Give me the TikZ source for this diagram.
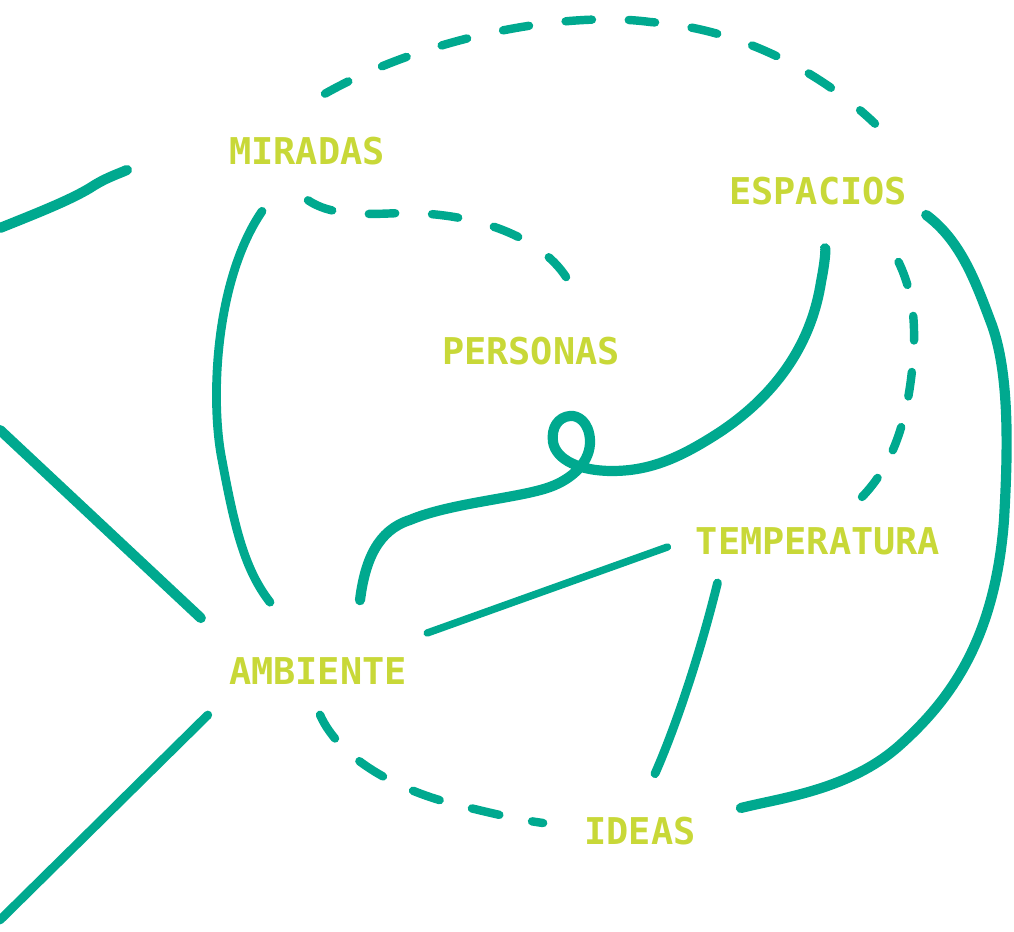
\documentclass[tikz,border=0pt]{standalone}
\usepackage{fontspec}
\setmonofont{DejaVu Sans Mono}
\usetikzlibrary{positioning,calc}

\definecolor{verde}{RGB}{0,169,143}
\definecolor{lima}{RGB}{200,216,56}

\begin{document}
\begin{tikzpicture}[x=0.02cm, y=-0.02cm,
    palabra/.style={text=lima, font=\ttfamily\bfseries\fontsize{21}{21}\selectfont, inner sep=0pt},
    trazo/.style={draw=verde, line width=5pt, line cap=round, line join=round},
    grueso/.style={trazo, line width=5.8pt},
    fino/.style={trazo, line width=4.2pt},
    rayas/.style={trazo, line width=4.8pt, dash pattern=on 15pt off 21pt}]
    \useasboundingbox (0,0) rectangle (1014,932);
    % palabras
    \node[palabra] (mir) at (307,151) {MIRADAS};
    \node[palabra] (esp) at (818,191) {ESPACIOS};
    \node[palabra] (per) at (531,351) {PERSONAS};
    \node[palabra] (tem) at (818,541) {TEMPERATURA};
    \node[palabra] (amb) at (318,671) {AMBIENTE};
    \node[palabra] (ide) at (640,831) {IDEAS};
    % extremos libres
    \coordinate (bordeA) at (0,228);
    \coordinate (bordeB) at (0,430);
    \coordinate (bordeC) at (0,920);
    % lineas continuas
    \draw[grueso] (bordeA) .. controls (40,212) and (70,200) .. (90,188)
        .. controls (105,178) and (118,174) .. ($(mir.west)+(-102,19)$);
    \draw[grueso] (bordeB) -- ($(amb.west)+(-28,-53)$);
    \draw[trazo] ($(amb.west)+(-21,44)$) -- (bordeC);
    \draw[trazo] ($(mir.south)+(-45,46)$) .. controls (215,280) and (210,400) .. (222,460)
        .. controls (235,530) and (245,570) .. ($(amb.north)+(-48,-55)$);
    \draw[grueso] ($(amb.north)+(42,-57)$) .. controls (365,560) and (378,530) .. (410,520)
        .. controls (450,503) and (520,498) .. (550,487)
        .. controls (572,479) and (591,462) .. (590,440)
        .. controls (589,422) and (578,415) .. (570,416)
        .. controls (558,417) and (551,428) .. (553,442)
        .. controls (556,460) and (580,471) .. (612,471)
        .. controls (650,471) and (680,458) .. (720,432)
        .. controls (780,392) and (812,340) .. (821,282)
        .. controls (825,262) and (826,248) .. ($(esp.south)+(7,43)$);
    \draw[fino] ($(amb.east)+(20,-38)$) -- ($(tem.west)+(-28,6)$);
    \draw[trazo] ($(tem.west)+(22,42)$) .. controls (696,670) and (670,740) .. ($(ide.north)+(15,-43)$);
    \draw[grueso] ($(esp.east)+(19,24)$) .. controls (960,240) and (975,280) .. (990,320)
        .. controls (1010,370) and (1008,450) .. (1004,520)
        .. controls (995,640) and (950,700) .. (900,745)
        .. controls (850,790) and (780,798) .. ($(ide.east)+(45,-23)$);
    % lineas de rayas
    \draw[rayas] ($(mir.north)+(18,-43)$) .. controls (420,40) and (560,10) .. (650,22)
        .. controls (760,30) and (840,90) .. ($(esp.north)+(57,-53)$);
    \draw[rayas] ($(mir.south)+(1,35)$) .. controls (330,215) and (360,215) .. (400,213)
        .. controls (480,212) and (550,240) .. ($(per.north)+(41,-49)$);
    \draw[rayas, dash pattern=on 14pt off 18pt] ($(tem.north)+(44,-30)$) .. controls (893,465) and (908,420) .. (913,360)
        .. controls (918,300) and (905,270) .. ($(esp.south)+(67,32)$);
    \draw[rayas, dash pattern=on 16pt off 19pt] ($(amb.south)+(2,30)$) .. controls (340,760) and (400,790) .. (450,803)
        .. controls (490,813) and (520,820) .. ($(ide.west)+(-41,-8)$);
\end{tikzpicture}
\end{document}
